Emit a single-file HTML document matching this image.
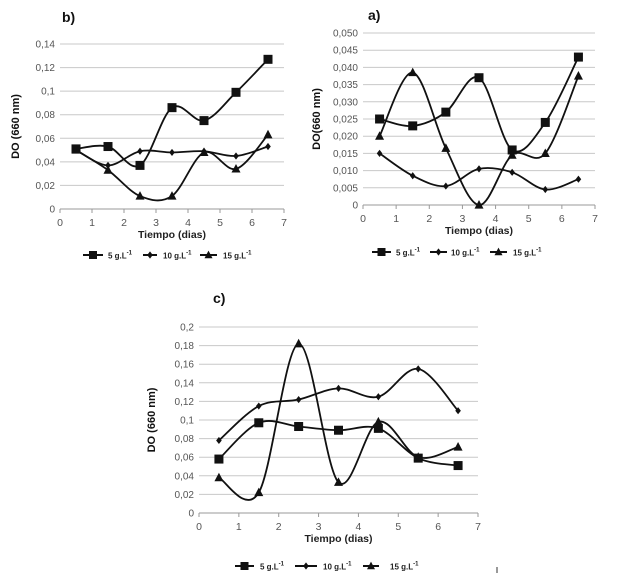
<!DOCTYPE html>
<html><head><meta charset="utf-8"><style>
html,body{margin:0;padding:0;background:#fff;}
svg{display:block;font-family:"Liberation Sans",sans-serif;}
</style></head><body>
<svg id="s" width="617" height="575"></svg>
<script>
const xCats=[0.5,1.5,2.5,3.5,4.5,5.5,6.5];
const seriesNames=["5 g.L","10 g.L","15 g.L"];
const bS5=[0.051,0.053,0.037,0.086,0.075,0.099,0.127];
const bS10=[0.050,0.037,0.049,0.048,0.049,0.045,0.053];
const bS15=[0.050,0.033,0.011,0.011,0.048,0.034,0.063];
const bTicks=["0","0,02","0,04","0,06","0,08","0,1","0,12","0,14"];
const aS5=[0.025,0.023,0.027,0.037,0.016,0.024,0.043];
const aS10=[0.015,0.0085,0.0055,0.0105,0.0095,0.0045,0.0075];
const aS15=[0.020,0.0385,0.0165,0,0.0145,0.015,0.0375];
const aTicks=["0","0,005","0,010","0,015","0,020","0,025","0,030","0,035","0,040","0,045","0,050"];
const cS5=[0.058,0.097,0.093,0.089,0.091,0.059,0.051];
const cS10=[0.078,0.115,0.122,0.134,0.125,0.155,0.110];
const cS15=[0.038,0.022,0.182,0.033,0.098,0.060,0.071];
const cTicks=["0","0,02","0,04","0,06","0,08","0,1","0,12","0,14","0,16","0,18","0,2"];
const xTicks=["0","1","2","3","4","5","6","7"];

const NS="http://www.w3.org/2000/svg";
const svg=document.getElementById('s');
function mk(t,a,p){const e=document.createElementNS(NS,t);for(const k in a)e.setAttribute(k,a[k]);(p||svg).appendChild(e);return e;}
function path(pts){let d="M"+pts[0][0]+","+pts[0][1];for(let i=0;i<pts.length-1;i++){const p0=pts[i-1]||pts[i],p1=pts[i],p2=pts[i+1],p3=pts[i+2]||p2;d+=" C"+(p1[0]+(p2[0]-p0[0])/6)+","+(p1[1]+(p2[1]-p0[1])/6)+" "+(p2[0]-(p3[0]-p1[0])/6)+","+(p2[1]-(p3[1]-p1[1])/6)+" "+p2[0]+","+p2[1];}return d;}
function marker(g,type,x,y,s){
 if(type==0)return mk('rect',{x:x-s,y:y-s,width:2*s,height:2*s,fill:'#111'},g);
 if(type==1)return mk('path',{d:`M${x},${y-s*0.9}L${x+s*0.7},${y}L${x},${y+s*0.9}L${x-s*0.7},${y}Z`,fill:'#111'},g);
 return mk('path',{d:`M${x},${y-s*1.1}L${x+s},${y+s*0.8}L${x-s},${y+s*0.8}Z`,fill:'#111'},g);
}
function chart(o){
 const g=mk('g',{});
 
 
 const X=v=>o.x0+(o.x7-o.x0)*v/7, Y=v=>o.y0-(o.y0-o.yTop)*v/o.ymax;
 const n=o.ticks.length;
 o.ticks.forEach((t,i)=>{const v=o.ymax*i/(n-1),y=Y(v);
  const l=mk('line',{x1:o.x0,x2:o.x7,y1:y,y2:y,stroke:i==0?'#999':'#c8c8c8','stroke-width':1},g);
  
  const tx=mk('text',{x:o.x0-5,y:y+3.5,'font-size':10,fill:'#555','text-anchor':'end'},g);tx.textContent=t;
  });
 xTicks.forEach((t,i)=>{const x=X(i);
  mk('line',{x1:x,x2:x,y1:o.y0,y2:o.y0+4,stroke:'#999'},g);
  const tx=mk('text',{x:x,y:o.y0+17,'font-size':10.5,fill:'#555','text-anchor':'middle'},g);tx.textContent=t;
  });
 const tt=mk('text',{x:o.tx,y:o.ty,'font-size':14,'font-weight':'bold',fill:'#111'},g);tt.textContent=o.title;
 
 const yt=mk('text',{x:0,y:0,'font-size':11,'font-weight':'bold',fill:'#111','text-anchor':'middle',transform:`translate(${o.ytx},${(o.y0+o.yTop)/2}) rotate(-90)`},g);yt.textContent=o.ytitle;
 
 const xt=mk('text',{x:(o.x0+o.x7)/2,y:o.y0+29,'font-size':10.5,'font-weight':'bold',fill:'#222','text-anchor':'middle'},g);xt.textContent="Tiempo (dias)";
 
 o.series.forEach((s,k)=>{const pts=s.map((v,i)=>[X(xCats[i]),Y(v)]);
  const p=mk('path',{d:path(pts),fill:'none',stroke:'#111','stroke-width':1.8},g);
  
  pts.forEach(q=>{const m=marker(g,k,q[0],q[1],k==0?4.5:k==1?4:4.5);});});
 o.leg.forEach((e,k)=>{const ly=o.ly;
  const lg=mk('g',{},g);
  mk('line',{x1:e[0],x2:e[1],y1:ly,y2:ly,stroke:'#111','stroke-width':2},lg);marker(lg,k,(e[0]+e[1])/2,ly,4);
  const t=mk('text',{x:e[2],y:ly+3.5,'font-size':8,'font-weight':'bold',fill:'#222'},lg);
  t.innerHTML=seriesNames[k]+'<tspan dy="-4" font-size="6">-1</tspan>';});
}
chart({name:'chart-b',x0:60,x7:284,y0:209,yTop:44,ymax:0.14,ticks:bTicks,series:[bS5,bS10,bS15],title:'b)',tx:62,ty:22,ytitle:'DO  (660 nm)',ytx:19,ly:255,leg:[[83,103,108],[143,157,163],[200,217,223]]});
chart({name:'chart-a',x0:363,x7:595,y0:205,yTop:33,ymax:0.05,ticks:aTicks,series:[aS5,aS10,aS15],title:'a)',tx:368,ty:20,ytitle:'DO(660 nm)',ytx:320,ly:252,leg:[[372,391,396],[430,447,451],[490,507,513]]});
chart({name:'chart-c',x0:199,x7:478,y0:513,yTop:327,ymax:0.2,ticks:cTicks,series:[cS5,cS10,cS15],title:'c)',tx:213,ty:303,ytitle:'DO (660 nm)',ytx:155,ly:566,leg:[[235,254,260],[295,317,323],[363,379,390]]});
mk('line',{x1:497,x2:497,y1:567,y2:573,stroke:'#333'});
</script>
</body></html>
